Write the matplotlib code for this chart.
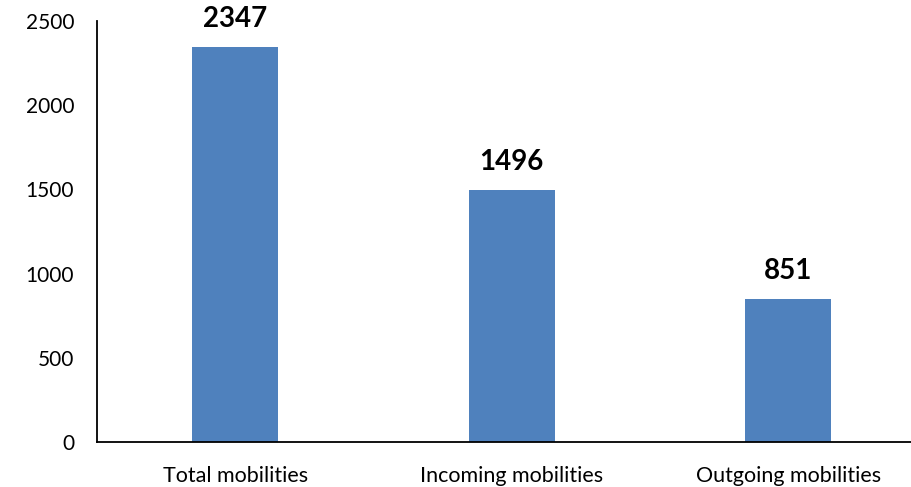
import matplotlib
matplotlib.use("Agg")
import matplotlib.pyplot as plt

categories = ["Total mobilities", "Incoming mobilities", "Outgoing mobilities"]
values = [2347, 1496, 851]
yticks = [0, 500, 1000, 1500, 2000, 2500]

plt.rcParams['font.family'] = ['Lato', 'DejaVu Sans']

fig = plt.figure(figsize=(9.12, 4.87), dpi=100)
# axes runs slightly past the right edge, like the original
ax = fig.add_axes([97/912, 45/487, 829.5/912, 421/487])

x = range(len(categories))
ax.bar(x, values, width=0.31, color="#4F81BD")
for xi, v in zip(x, values):
    ax.text(xi, v + 88, str(v), ha="center", va="bottom",
            fontsize=20, fontweight="bold", color="black")

ax.set_xlim(-0.5, 2.5)
ax.set_ylim(0, 2500)
ax.set_yticks(yticks)
ax.set_xticks(list(x))
ax.set_xticklabels(categories, fontsize=15.5)
ax.tick_params(axis="both", length=0, colors="black")
ax.tick_params(axis="y", pad=16.5, labelsize=15)
ax.tick_params(axis="x", pad=17)
for s in ["top", "right"]:
    ax.spines[s].set_visible(False)
for s in ["left", "bottom"]:
    ax.spines[s].set_linewidth(1.3)
    ax.spines[s].set_color("black")

fig.savefig("out.png", dpi=100)
